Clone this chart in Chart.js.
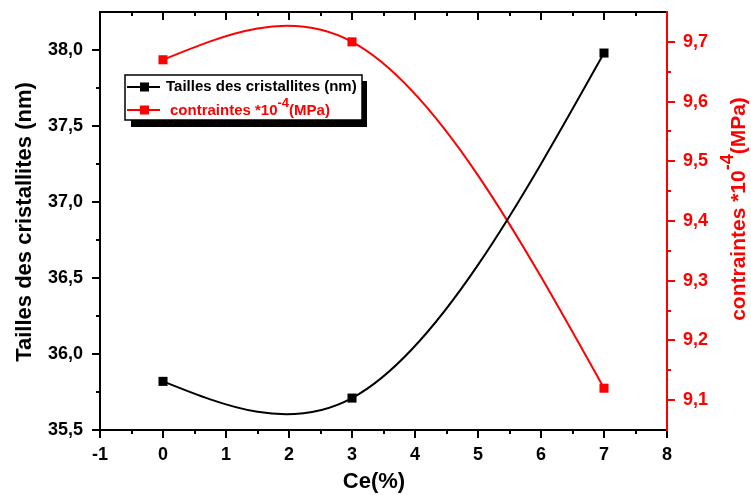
<!DOCTYPE html>
<html>
<head>
<meta charset="utf-8">
<script src="https://cdn.jsdelivr.net/npm/chart.js@4.4.1/dist/chart.umd.min.js"></script>
<style>
  html, body { margin: 0; padding: 0; background: #fff; }
  #chart { display: block; }
</style>
</head>
<body>
<canvas id="chart" width="751" height="495"></canvas>
<script>
"use strict";

// Ce content (%) and the two measured quantities
const ceContent = [0, 3, 7];
const crystalliteSize = [35.82, 35.71, 37.98];   // nm
const strain = [9.67, 9.70, 9.12];               // *10^-4 MPa

const sizeLabel = 'Tailles des cristallites (nm)';
const strainLabel = ['contraintes *10', '-4', '(MPa)'];   // text, exponent, unit
const xTitle = 'Ce(%)';

const FONT = '"Liberation Sans", Arial, sans-serif';
const BLACK = '#000000';
const RED = '#ff0000';
const SUP_SCALE = 0.85;
const SUP_RAISE = 0.5;

// comma decimals, labels only on the major steps
function majorLabel(v, every) {
    const k = Math.round(v * 100);
    return k % every === 0 ? (k / 100).toFixed(every % 100 === 0 ? 0 : 1).replace('.', ',') : '';
}

function fixBox(size, key) {
    return function (scale) {
        scale[key] = size;
        scale.paddingTop = scale.paddingBottom = scale.paddingLeft = scale.paddingRight = 0;
    };
}

// Natural cubic spline through the pixel positions, written into the bezier control points
function naturalSplineControls(points) {
    const n = points.length;
    if (n < 3) return;
    const h = [], m = new Array(n).fill(0);
    for (let i = 0; i < n - 1; i++) h.push(points[i + 1].x - points[i].x);
    const a = [], b = [], c = [], r = [];
    for (let i = 1; i < n - 1; i++) {
        a.push(h[i - 1]);
        b.push(2 * (h[i - 1] + h[i]));
        c.push(h[i]);
        r.push(6 * ((points[i + 1].y - points[i].y) / h[i] - (points[i].y - points[i - 1].y) / h[i - 1]));
    }
    const k = b.length;
    for (let i = 1; i < k; i++) {
        const w = a[i] / b[i - 1];
        b[i] -= w * c[i - 1];
        r[i] -= w * r[i - 1];
    }
    for (let i = k - 1; i >= 0; i--) {
        m[i + 1] = (r[i] - c[i] * m[i + 2]) / b[i];
    }
    for (let i = 0; i < n - 1; i++) {
        const p0 = points[i], p1 = points[i + 1], hi = h[i];
        const s = (p1.y - p0.y) / hi;
        const d0 = s - hi * (2 * m[i] + m[i + 1]) / 6;
        const d1 = s + hi * (m[i] + 2 * m[i + 1]) / 6;
        p0.cp2x = p0.x + hi / 3;
        p0.cp2y = p0.y + d0 * hi / 3;
        p1.cp1x = p1.x - hi / 3;
        p1.cp1y = p1.y - d1 * hi / 3;
    }
}

const splinePlugin = {
    id: 'naturalSpline',
    beforeDatasetDraw(chart, args) {
        const line = args.meta.dataset;
        naturalSplineControls(args.meta.data);
        line._pointsUpdated = true;
        line._path = undefined;
    }
};

// text with a raised exponent, drawn from the left at (x, y) on a middle baseline
function strainWidth(ctx, size) {
    ctx.font = 'bold ' + size + 'px ' + FONT;
    const w0 = ctx.measureText(strainLabel[0]).width;
    const w2 = ctx.measureText(strainLabel[2]).width;
    ctx.font = 'bold ' + Math.round(size * SUP_SCALE) + 'px ' + FONT;
    const w1 = ctx.measureText(strainLabel[1]).width;
    return w0 + w1 + w2;
}

function drawStrain(ctx, x, y, size) {
    ctx.textAlign = 'left';
    ctx.textBaseline = 'middle';
    ctx.font = 'bold ' + size + 'px ' + FONT;
    ctx.fillText(strainLabel[0], x, y);
    x += ctx.measureText(strainLabel[0]).width;
    ctx.font = 'bold ' + Math.round(size * SUP_SCALE) + 'px ' + FONT;
    ctx.fillText(strainLabel[1], x, y - size * SUP_RAISE);
    x += ctx.measureText(strainLabel[1]).width;
    ctx.font = 'bold ' + size + 'px ' + FONT;
    ctx.fillText(strainLabel[2], x, y);
}

function legendRow(ctx, y, color) {
    ctx.strokeStyle = color;
    ctx.fillStyle = color;
    ctx.lineWidth = 2;
    ctx.beginPath();
    ctx.moveTo(127, y);
    ctx.lineTo(160, y);
    ctx.stroke();
    ctx.fillRect(140, y - 4.5, 9, 9);
}

const framePlugin = {
    id: 'frame',
    afterDraw(chart) {
        const ctx = chart.ctx;
        const { left, right, top, bottom } = chart.chartArea;
        const sx = chart.scales.x, sy = chart.scales.y, sy2 = chart.scales.y2;
        const isEdge = (t, s) => Math.abs(t.value - s.min) < 1e-6 || Math.abs(t.value - s.max) < 1e-6;

        ctx.save();
        ctx.lineWidth = 2;
        ctx.lineCap = 'butt';

        // black frame: bottom, top and left axes with their ticks
        ctx.strokeStyle = BLACK;
        ctx.beginPath();
        ctx.moveTo(left - 1, bottom); ctx.lineTo(right, bottom);
        ctx.moveTo(left - 1, top); ctx.lineTo(right, top);
        ctx.moveTo(left, top); ctx.lineTo(left, bottom + 1);
        sx.ticks.forEach(t => {
            const px = Math.round(sx.getPixelForValue(t.value));
            const len = t.label ? 8 : 4;
            if (!t.label && isEdge(t, sx)) return;
            ctx.moveTo(px, bottom); ctx.lineTo(px, bottom + len);
            ctx.moveTo(px, top); ctx.lineTo(px, top + len);
        });
        sy.ticks.forEach(t => {
            if (!t.label && isEdge(t, sy)) return;
            const py = Math.round(sy.getPixelForValue(t.value));
            ctx.moveTo(left, py); ctx.lineTo(left - (t.label ? 8 : 4), py);
        });
        ctx.stroke();

        // red right axis for the strain
        ctx.strokeStyle = RED;
        ctx.beginPath();
        ctx.moveTo(right, top - 1); ctx.lineTo(right, bottom + 1);
        sy2.ticks.forEach(t => {
            if (!t.label && isEdge(t, sy2)) return;
            const py = Math.round(sy2.getPixelForValue(t.value));
            ctx.moveTo(right, py); ctx.lineTo(right + (t.label ? 8 : 4), py);
        });
        ctx.stroke();

        // axis titles
        ctx.fillStyle = BLACK;
        ctx.textAlign = 'center';
        ctx.textBaseline = 'middle';
        ctx.font = 'bold 22px ' + FONT;
        ctx.fillText(xTitle, 374, 482);

        ctx.save();
        ctx.translate(25, 222);
        ctx.rotate(-Math.PI / 2);
        ctx.font = 'bold 22px ' + FONT;
        ctx.fillText(sizeLabel, 0, 0);
        ctx.restore();

        ctx.save();
        ctx.translate(739, 209);
        ctx.rotate(-Math.PI / 2);
        ctx.fillStyle = RED;
        const tw = strainWidth(ctx, 21);
        drawStrain(ctx, -tw / 2, 0, 21);
        ctx.restore();

        // legend box with drop shadow
        ctx.fillStyle = BLACK;
        ctx.fillRect(131, 81, 236, 46);
        ctx.fillStyle = '#ffffff';
        ctx.fillRect(125, 75, 237, 45);
        ctx.strokeStyle = BLACK;
        ctx.lineWidth = 1.5;
        ctx.strokeRect(125, 75, 237, 45);

        legendRow(ctx, 87, BLACK);
        ctx.fillStyle = BLACK;
        ctx.textAlign = 'left';
        ctx.textBaseline = 'middle';
        ctx.font = 'bold 15px ' + FONT;
        ctx.fillText(sizeLabel, 166, 87);

        legendRow(ctx, 110, RED);
        ctx.fillStyle = RED;
        drawStrain(ctx, 170, 111, 15);

        ctx.restore();
    }
};

const tickFont = { family: FONT, size: 18, weight: 'bold' };

new Chart(document.getElementById('chart'), {
    type: 'line',
    data: {
        datasets: [
            {
                label: sizeLabel,
                data: ceContent.map((x, i) => ({ x: x, y: crystalliteSize[i] })),
                yAxisID: 'y',
                borderColor: BLACK,
                backgroundColor: BLACK,
                borderWidth: 2,
                tension: 0.4,
                pointStyle: 'rect',
                pointRadius: 6.4,
                pointBorderWidth: 0,
                pointBackgroundColor: BLACK
            },
            {
                label: strainLabel.join(''),
                data: ceContent.map((x, i) => ({ x: x, y: strain[i] })),
                yAxisID: 'y2',
                borderColor: RED,
                backgroundColor: RED,
                borderWidth: 2,
                tension: 0.4,
                pointStyle: 'rect',
                pointRadius: 6.4,
                pointBorderWidth: 0,
                pointBackgroundColor: RED
            }
        ]
    },
    options: {
        responsive: false,
        devicePixelRatio: 1,
        animation: false,
        layout: { padding: { top: 12, left: 0, right: 0, bottom: 0 } },
        elements: { line: { capBezierPoints: false } },
        plugins: {
            legend: { display: false },
            tooltip: { enabled: false }
        },
        scales: {
            x: {
                type: 'linear',
                min: -1,
                max: 8,
                grid: { display: false, drawTicks: false },
                border: { display: false },
                ticks: {
                    stepSize: 0.5,
                    autoSkip: false,
                    maxRotation: 0,
                    padding: 14,
                    color: BLACK,
                    font: tickFont,
                    callback: v => majorLabel(v, 100)
                },
                afterFit: fixBox(65, 'height')
            },
            y: {
                type: 'linear',
                position: 'left',
                min: 35.5,
                max: 38.25,
                grid: { display: false, drawTicks: false },
                border: { display: false },
                ticks: {
                    stepSize: 0.25,
                    autoSkip: false,
                    padding: 17,
                    color: BLACK,
                    font: tickFont,
                    callback: v => majorLabel(v, 50)
                },
                afterFit: fixBox(100, 'width')
            },
            y2: {
                type: 'linear',
                position: 'right',
                min: 9.05,
                max: 9.75,
                grid: { display: false, drawTicks: false },
                border: { display: false },
                ticks: {
                    stepSize: 0.05,
                    autoSkip: false,
                    padding: 16,
                    color: RED,
                    font: tickFont,
                    callback: v => majorLabel(v, 10)
                },
                afterFit: fixBox(84, 'width')
            }
        }
    },
    plugins: [splinePlugin, framePlugin]
});
</script>
</body>
</html>
